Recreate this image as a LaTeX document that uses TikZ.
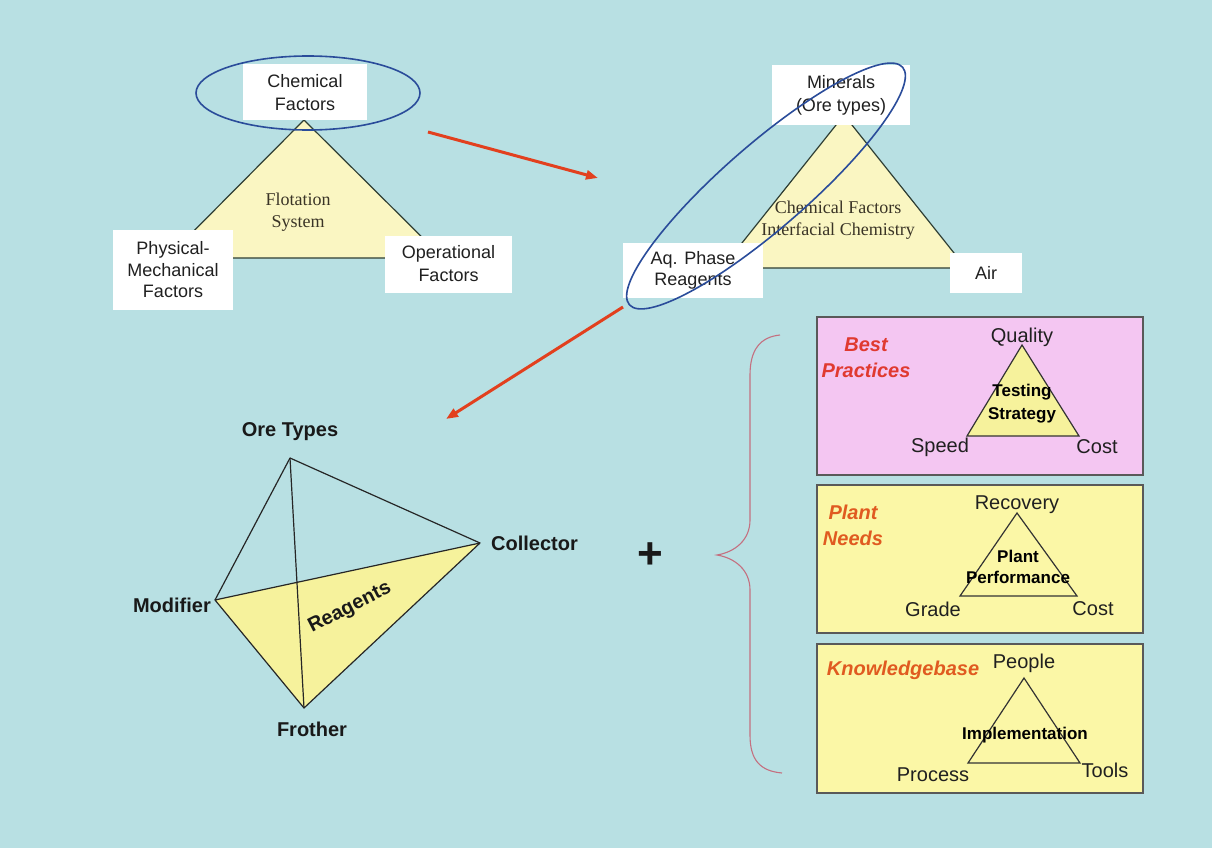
\documentclass[tikz,border=0pt]{standalone}
\usepackage{fontspec}
\setmainfont{Liberation Sans}
\newfontfamily\serifx{Liberation Serif}
\usetikzlibrary{arrows.meta}
\definecolor{bg}{HTML}{B8E0E3}
\definecolor{paley}{HTML}{FAF6C2}
\definecolor{facey}{HTML}{F6F29C}
\definecolor{boxy}{HTML}{FBF7A6}
\definecolor{boxp}{HTML}{F4C6F2}
\definecolor{edgeg}{HTML}{2E3E34}
\definecolor{ellb}{HTML}{2A4C9A}
\definecolor{arrred}{HTML}{E2401E}
\definecolor{bracec}{HTML}{C47080}
\definecolor{lblred}{HTML}{E03A30}
\definecolor{lblor}{HTML}{E05A20}
\definecolor{txt}{HTML}{202020}
\definecolor{txtser}{HTML}{3A3426}
\tikzset{
  wbox/.style={fill=white, draw=none, align=center, inner sep=0pt, text=txt,
    font=\fontsize{18}{23}\selectfont},
  sertext/.style={align=center, inner sep=0pt, text=txtser, font=\serifx\fontsize{18}{22}\selectfont},
  tri/.style={draw=edgeg, line width=1.2pt, line join=miter},
  tetra/.style={draw=black!85, line width=1.2pt, line join=round},
  blbl/.style={inner sep=0pt, text=black!90, font=\bfseries\fontsize{20}{24}\selectfont},
  plbl/.style={inner sep=0pt, text=txt, font=\fontsize{20}{24}\selectfont},
  inlbl/.style={inner sep=0pt, align=center, text=black, font=\bfseries\fontsize{17}{23}\selectfont},
  sidelbl/.style={inner sep=0pt, align=center, font=\bfseries\itshape\fontsize{20}{26}\selectfont},
  panel/.style={draw=black!65, line width=1.3pt},
  redarrow/.style={draw=arrred, line width=3pt, -{Triangle[length=12pt,width=9pt]}},
  oval/.style={draw=ellb, line width=1.6pt}
}
\begin{document}
\begin{tikzpicture}[x=1pt,y=-1pt]
\useasboundingbox (0,0) rectangle (1212,848);
\fill[bg] (0,0) rectangle (1212,848);

% ---------- top-left triangle ----------
\coordinate (t1a) at (304,120);
\coordinate (t1b) at (167,258);
\coordinate (t1c) at (443,258);
\draw[tri, fill=paley] (t1a) -- (t1b) -- (t1c) -- cycle;
\node[sertext] (flot) at (298,212) {Flotation\\System};
\node[wbox, minimum width=124, minimum height=56] (chem) at (305,92.5) {Chemical\\Factors};
\node[wbox, minimum width=120, minimum height=80, font=\fontsize{18}{21.5}\selectfont] (phys) at (173,270) {Physical-\\Mechanical\\Factors};
\node[wbox, minimum width=127, minimum height=57] (oper) at (448.5,264) {Operational\\Factors};
\draw[oval] (308,93) ellipse [x radius=112, y radius=37];

% ---------- top-right triangle ----------
\coordinate (t2a) at (844,115);
\coordinate (t2b) at (722,268);
\coordinate (t2c) at (966,268);
\draw[tri, fill=paley] (t2a) -- (t2b) -- (t2c) -- cycle;
\node[sertext] (chemint) at (838,220) {Chemical Factors\\Interfacial Chemistry};
\node[wbox, minimum width=138, minimum height=60] (miner) at (841,95) {Minerals\\(Ore types)};
\node[wbox, minimum width=140, minimum height=55, font=\fontsize{18}{21}\selectfont] (aq) at (693,270.5) {Aq. Phase\\Reagents};
\node[wbox, minimum width=72, minimum height=40] (air) at (986,273) {Air};
\draw[oval, rotate around={41:(766,186)}] (766,186) ellipse [x radius=181, y radius=42];

% ---------- red arrows ----------
\coordinate (r1s) at (428,132);
\coordinate (r1e) at (598,178);
\draw[redarrow] (r1s) -- (r1e);
\coordinate (r2s) at (623,307);
\coordinate (r2e) at (446,419);
\draw[redarrow] (r2s) -- (r2e);

% ---------- tetrahedron ----------
\coordinate (ore) at (290,458);
\coordinate (col) at (480,543);
\coordinate (mod) at (215,600);
\coordinate (fro) at (304,708);
\draw[tetra, fill=facey] (mod) -- (col) -- (fro) -- cycle;
\draw[tetra] (mod) -- (ore) -- (col);
\draw[tetra] (ore) -- (fro);
\node[blbl] (lore) at (290,432) {Ore Types};
\node[blbl, anchor=west] (lcol) at (491,543) {Collector};
\node[blbl, anchor=east] (lmod) at (211,605) {Modifier};
\node[blbl] (lfro) at (312,729) {Frother};
\node[blbl, rotate=27] (lrea) at (350,608) {Reagents};

% ---------- plus ----------
\node[inner sep=0pt, font=\bfseries\fontsize{44}{44}\selectfont, text=black!90] (plus) at (650,556) {+};

% ---------- brace ----------
\coordinate (brt) at (780,335);
\coordinate (brm) at (717,555);
\coordinate (brb) at (782,773);
\draw[bracec, line width=1.1pt]
  (brt) .. controls (760,337) and (750,350) .. (750,375)
  -- (750,520) .. controls (750,540) and (735,552) .. (brm)
  .. controls (735,558) and (750,570) .. (750,590)
  -- (750,735) .. controls (750,760) and (760,771) .. (brb);

% ---------- panel 1 ----------
\draw[panel, fill=boxp] (817,317) rectangle (1143,475);
\coordinate (p1a) at (1022,345);
\coordinate (p1b) at (967,436);
\coordinate (p1c) at (1079,436);
\draw[tri, draw=black!80, fill=facey] (p1a) -- (p1b) -- (p1c) -- cycle;
\node[sidelbl, text=lblred] (bp) at (866,358) {Best\\Practices};
\node[plbl] (qual) at (1022,337) {Quality};
\node[inlbl] (test) at (1022,404) {Testing\\Strategy};
\node[plbl] (speed) at (940,447) {Speed};
\node[plbl] (cost1) at (1097,447) {Cost};

% ---------- panel 2 ----------
\draw[panel, fill=boxy] (817,485) rectangle (1143,633);
\coordinate (p2a) at (1017,513);
\coordinate (p2b) at (960,596);
\coordinate (p2c) at (1077,596);
\draw[tri, draw=black!80, fill=boxy] (p2a) -- (p2b) -- (p2c) -- cycle;
\node[sidelbl, text=lblor] (pn) at (853,525) {Plant\\Needs};
\node[plbl] (reco) at (1017,505) {Recovery};
\node[inlbl, font=\bfseries\fontsize{17}{21}\selectfont] (pperf) at (1018,567) {Plant\\Performance};
\node[plbl] (grade) at (933,609) {Grade};
\node[plbl] (cost2) at (1093,609) {Cost};

% ---------- panel 3 ----------
\draw[panel, fill=boxy] (817,644) rectangle (1143,793);
\coordinate (p3a) at (1024,678);
\coordinate (p3b) at (968,763);
\coordinate (p3c) at (1080,763);
\draw[tri, draw=black!80, fill=boxy] (p3a) -- (p3b) -- (p3c) -- cycle;
\node[sidelbl, text=lblor] (kb) at (903,670) {Knowledgebase};
\node[plbl] (people) at (1024,663) {People};
\node[inlbl] (impl) at (1025,735) {Implementation};
\node[plbl] (proc) at (933,775) {Process};
\node[plbl] (tools) at (1105,770) {Tools};
\end{tikzpicture}
\end{document}
